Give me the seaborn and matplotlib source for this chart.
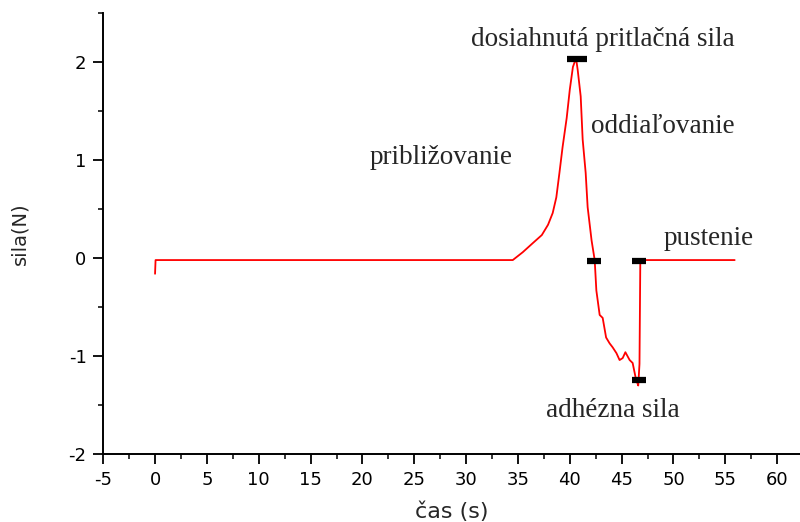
import matplotlib
matplotlib.use("Agg")
import matplotlib.pyplot as plt
import seaborn as sns
import pandas as pd
from matplotlib.ticker import MultipleLocator

# force curve
cas = [0.0, 0.05, 34.5, 35.46, 36.4, 37.3, 37.9, 38.35, 38.7, 39.0, 39.3, 39.7,
       40.0, 40.3, 40.6, 40.76, 41.05, 41.24, 41.53, 41.72, 42.1, 42.4, 42.56,
       42.88, 43.17, 43.5, 43.84, 44.13, 44.5, 44.8, 45.1, 45.36, 45.77, 46.06,
       46.35, 46.5, 46.6, 46.72, 46.8, 55.9]
sila = [-0.16, -0.02, -0.02, 0.06, 0.15, 0.235, 0.34, 0.46, 0.62, 0.87, 1.13, 1.43,
        1.72, 1.95, 2.04, 1.92, 1.65, 1.21, 0.87, 0.52, 0.18, -0.02, -0.33,
        -0.58, -0.61, -0.81, -0.87, -0.91, -0.97, -1.04, -1.02, -0.96, -1.04, -1.07,
        -1.22, -1.27, -1.3, -1.08, -0.02, -0.02]

# black bar markers at key points
mark_x = [40.66, 42.35, 46.64, 46.64]
mark_y = [2.03, -0.03, -0.03, -1.24]
mark_w = [20, 14, 14, 14]

# annotations
labels = ["dosiahnutá pritlačná sila", "približovanie", "oddiaľovanie", "pustenie", "adhézna sila"]
label_x = [43.17, 27.56, 48.95, 53.38, 44.13]
label_y = [2.23, 1.03, 1.34, 0.20, -1.55]

df = pd.DataFrame({"cas": cas, "sila": sila})

sns.set_style("ticks")
plt.rcParams["font.family"] = ["DejaVu Sans"]
plt.rcParams["axes.unicode_minus"] = False

fig = plt.figure(figsize=(8, 5.22), dpi=100)
ax = fig.add_axes([0.129, 0.130, 0.871, 0.845])

sns.lineplot(data=df, x="cas", y="sila", sort=False, estimator=None,
             color="red", linewidth=1.3, ax=ax)

for x, y, w in zip(mark_x, mark_y, mark_w):
    ax.plot([x], [y], marker="_", markersize=w * 0.72, markeredgewidth=4.5,
            color="black", linestyle="none")

for t, x, y in zip(labels, label_x, label_y):
    ax.text(x, y, t, ha="center", va="center", fontsize=19.5,
            family=["Liberation Serif", "DejaVu Serif"])

ax.set_xlim(-5, 62.2)
ax.set_ylim(-2, 2.5)
ax.xaxis.set_major_locator(MultipleLocator(5))
ax.xaxis.set_minor_locator(MultipleLocator(2.5))
ax.yaxis.set_major_locator(MultipleLocator(1))
ax.yaxis.set_minor_locator(MultipleLocator(0.5))
ax.set_yticks([-2, -1, 0, 1, 2])

ax.tick_params(which="major", direction="out", length=7, width=1.3, labelsize=13,
               colors="black", pad=5)
ax.tick_params(which="minor", direction="out", length=3.6, width=1.3)

for s in ["top", "right"]:
    ax.spines[s].set_visible(False)
for s in ["left", "bottom"]:
    ax.spines[s].set_linewidth(1.4)
    ax.spines[s].set_color("black")

ax.set_xlabel("čas (s)", fontsize=16, labelpad=9)
ax.set_ylabel("sila(N)", fontsize=14, labelpad=28)

fig.savefig("out.png", dpi=100)
